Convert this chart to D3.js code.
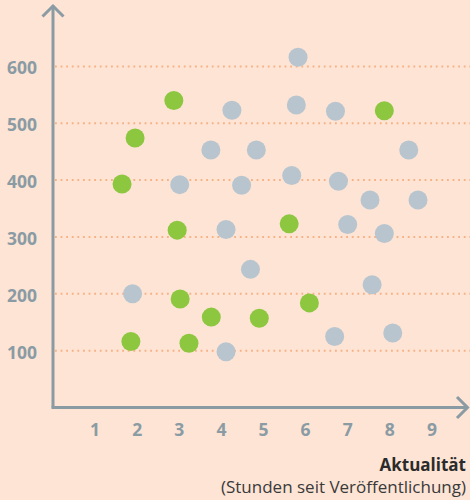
<!DOCTYPE html>
<html><head><meta charset="utf-8">
<script src="https://cdn.jsdelivr.net/npm/d3@7"></script>
<style>
html,body{margin:0;padding:0;background:#fde4d5;}
svg{display:block;}
</style></head>
<body>
<svg id="chart" width="470" height="500"></svg>
<script>
const xTicks = [1,2,3,4,5,6,7,8,9];
const yTicks = [100,200,300,400,500,600];
// gray points (hours, value)
const grayX = [5.82,4.25,5.78,6.71,3.75,4.83,8.45,3.01,4.48,5.67,6.78,7.53,8.67,4.11,7.0,7.87,4.69,7.58,6.69,8.07,4.11,1.89];
const grayY = [616,523,532,521,453,453,453,392,391,408,398,365,365,313,322,306,243,216,125,131,98,200];
// green points
const greenX = [2.87,1.95,1.64,7.87,2.95,5.61,3.02,3.76,4.90,6.09,3.23,1.85];
const greenY = [540,474,393,522,312,323,191,159,157,184,113,116];
const titleMain = "Aktualität";
const titleSub = "(Stunden seit Veröffentlichung)";

const svg = d3.select("#chart");
const x = d3.scaleLinear().domain([0,9]).range([53,431.9]);
const y = d3.scaleLinear().domain([0,600]).range([407.5,66.4]);
const axisColor = "#8a9ba4";
const font = "'Open Sans', sans-serif";

// gridlines
svg.append("g").selectAll("line").data(yTicks).join("line")
  .attr("x1",55).attr("x2",470)
  .attr("y1",d=>y(d)).attr("y2",d=>y(d))
  .attr("stroke","#f7b183").attr("stroke-width",2)
  .attr("stroke-dasharray","1.8,3.8");

// y tick labels
svg.append("g").selectAll("text").data(yTicks).join("text")
  .attr("x",37).attr("y",d=>y(d)+8)
  .attr("text-anchor","end")
  .attr("font-family",font).attr("font-weight","bold").attr("font-size",17.5)
  .attr("fill",axisColor).text(d=>d);

// x tick labels
svg.append("g").selectAll("text").data(xTicks).join("text")
  .attr("x",d=>x(d)).attr("y",436)
  .attr("text-anchor","middle")
  .attr("font-family",font).attr("font-weight","bold").attr("font-size",17.5)
  .attr("fill",axisColor).text(d=>d);

// axes
const ax = svg.append("g").attr("fill","none").attr("stroke",axisColor).attr("stroke-width",3);
ax.append("path").attr("d",`M${x(0)},${y(0)} V5.5`);
ax.append("path").attr("d",`M${x(0)-10.5},16.5 L${x(0)},6 L${x(0)+10.5},16.5`);
ax.append("path").attr("d",`M${x(0)-1.5},${y(0)} H467`);
ax.append("path").attr("d",`M457,${y(0)-10.5} L467.5,${y(0)} L457,${y(0)+10.5}`);

// points
const gray = grayX.map((v,i)=>({x:v,y:grayY[i]}));
const green = greenX.map((v,i)=>({x:v,y:greenY[i]}));
svg.append("g").selectAll("circle").data(gray).join("circle")
  .attr("cx",d=>x(d.x)).attr("cy",d=>y(d.y)).attr("r",9.5).attr("fill","#b8c5ce");
svg.append("g").selectAll("circle").data(green).join("circle")
  .attr("cx",d=>x(d.x)).attr("cy",d=>y(d.y)).attr("r",9.5).attr("fill","#8dc63f");

// title
svg.append("text").attr("x",466).attr("y",471).attr("text-anchor","end")
  .attr("font-family",font).attr("font-weight","bold").attr("font-size",17)
  .attr("fill","#2b2b2b").text(titleMain);
svg.append("text").attr("x",466).attr("y",492.5).attr("text-anchor","end")
  .attr("font-family",font).attr("font-size",17)
  .attr("fill","#3a3a3a").text(titleSub);
</script>
</body></html>
